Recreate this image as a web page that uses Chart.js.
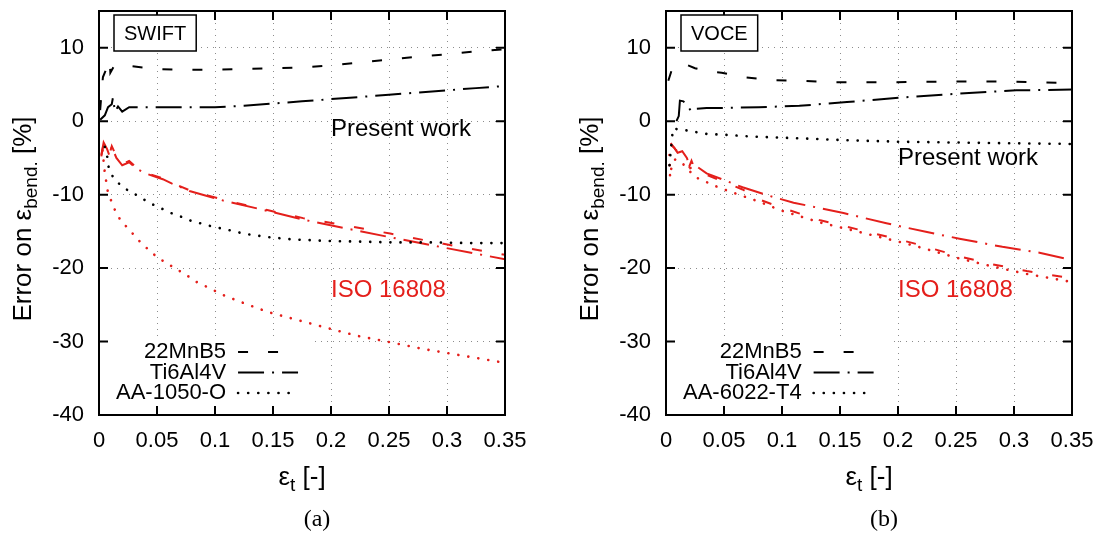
<!DOCTYPE html>
<html>
<head>
<meta charset="utf-8">
<script src="https://cdn.jsdelivr.net/npm/chart.js@4.4.1/dist/chart.umd.min.js"></script>
<style>
  html, body { margin: 0; padding: 0; background: #fff; }
  #wrap { position: relative; width: 1104px; height: 535px; }
  .panel { position: absolute; top: 0; width: 552px; height: 535px; }
</style>
</head>
<body>
<div id="wrap">
  <div class="panel" style="left:0"><canvas id="chart-swift"></canvas></div>
  <div class="panel" style="left:552px"><canvas id="chart-voce"></canvas></div>
</div>
<script>
// axis ticks
const xTicks = [0, 0.05, 0.1, 0.15, 0.2, 0.25, 0.3, 0.35];
const yTicks = [-40, -30, -20, -10, 0, 10];

// (a) SWIFT - present work
const swiftMnB5X = [0.001, 0.0026, 0.0034, 0.006, 0.0092, 0.0095, 0.0098, 0.013, 0.02, 0.027, 0.05, 0.075, 0.1, 0.125, 0.15, 0.175, 0.2, 0.225, 0.25, 0.275, 0.3, 0.325, 0.35];
const swiftMnB5Y = [1.5, 4.7, 6.0, 7.0, 8.3, 7.5, 6.6, 7.5, 7.6, 7.5, 7.1, 7.0, 7.0, 7.1, 7.2, 7.3, 7.6, 8.0, 8.4, 8.8, 9.1, 9.5, 9.8];
const swiftTiX = [0.001, 0.005, 0.0078, 0.011, 0.012, 0.0138, 0.0164, 0.02, 0.026, 0.05, 0.075, 0.1, 0.125, 0.15, 0.175, 0.2, 0.225, 0.25, 0.275, 0.3, 0.325, 0.35];
const swiftTiY = [0.2, 0.8, 1.9, 2.3, 3.2, 1.3, 2.0, 1.3, 1.9, 1.9, 1.9, 1.9, 2.1, 2.4, 2.7, 3.0, 3.3, 3.6, 3.9, 4.2, 4.5, 4.8];
const swiftAlX = [0.005, 0.0069, 0.008, 0.012, 0.019, 0.0267, 0.0353, 0.043, 0.0526, 0.062, 0.0707, 0.08, 0.0897, 0.099, 0.1086, 0.119, 0.128, 0.147, 0.167, 0.197, 0.225, 0.253, 0.285, 0.322, 0.35];
const swiftAlY = [-3.5, -4.6, -6.1, -7.6, -8.8, -9.6, -10.3, -11.1, -11.8, -12.5, -13.0, -13.6, -14.0, -14.4, -14.7, -15.1, -15.4, -15.8, -16.1, -16.3, -16.4, -16.5, -16.5, -16.6, -16.6];

// (a) SWIFT - ISO 16808
const isoAMnB5X = [0.002, 0.004, 0.007, 0.009, 0.011, 0.015, 0.02, 0.026, 0.033, 0.04, 0.055, 0.063, 0.078, 0.107, 0.145, 0.176, 0.216, 0.251, 0.297, 0.35];
const isoAMnB5Y = [-4.8, -3.0, -3.6, -4.5, -3.4, -4.8, -5.9, -5.4, -6.4, -7.0, -7.8, -8.4, -9.4, -10.7, -12.1, -13.2, -14.3, -15.3, -16.7, -18.2];
const isoATiX = [0.002, 0.004, 0.007, 0.009, 0.011, 0.015, 0.02, 0.026, 0.033, 0.04, 0.055, 0.063, 0.078, 0.107, 0.145, 0.176, 0.216, 0.251, 0.297, 0.35];
const isoATiY = [-4.6, -2.9, -3.8, -4.7, -3.5, -5.0, -6.0, -5.6, -6.5, -7.1, -7.9, -8.5, -9.5, -10.8, -12.2, -13.4, -14.7, -15.8, -17.2, -18.8];
const isoAAlX = [0.003, 0.005, 0.0078, 0.012, 0.0155, 0.021, 0.0285, 0.0353, 0.042, 0.05, 0.058, 0.0664, 0.075, 0.083, 0.091, 0.109, 0.127, 0.146, 0.165, 0.193, 0.222, 0.251, 0.279, 0.309, 0.35];
const isoAAlY = [-4.0, -7.0, -9.8, -11.4, -12.8, -13.9, -15.2, -16.4, -17.4, -18.5, -19.3, -20.1, -20.9, -21.8, -22.4, -23.8, -24.9, -26.0, -26.8, -28.0, -29.2, -30.1, -31.0, -31.8, -32.9];

// (b) VOCE - present work
const voceMnB5X = [0.002, 0.005, 0.008, 0.019, 0.025, 0.04, 0.048, 0.066, 0.092, 0.118, 0.144, 0.193, 0.242, 0.294, 0.32, 0.35];
const voceMnB5Y = [5.5, 7.0, 7.6, 7.6, 7.2, 6.7, 6.6, 6.0, 5.6, 5.5, 5.3, 5.3, 5.4, 5.4, 5.3, 5.2];
const voceTiX = [0.009, 0.011, 0.012, 0.015, 0.018, 0.022, 0.026, 0.035, 0.05, 0.08, 0.115, 0.156, 0.201, 0.248, 0.302, 0.35];
const voceTiY = [0, 0.7, 2.8, 2.7, 2.2, 1.3, 1.7, 1.8, 1.8, 1.9, 2.1, 2.6, 3.2, 3.7, 4.2, 4.3];
const voceAlX = [0.003, 0.004, 0.005, 0.006, 0.014, 0.021, 0.029, 0.038, 0.047, 0.055, 0.075, 0.11, 0.156, 0.202, 0.247, 0.294, 0.35];
const voceAlY = [-6.0, -4.2, -2.6, -1.0, -1.2, -1.3, -1.6, -1.8, -1.8, -1.9, -2.1, -2.3, -2.6, -2.8, -2.9, -3.0, -3.1];

// (b) VOCE - ISO 16808
const isoBMnB5X = [0.004, 0.008, 0.012, 0.016, 0.02, 0.022, 0.025, 0.035, 0.05, 0.066, 0.081, 0.1, 0.133, 0.167, 0.213, 0.253, 0.282, 0.311, 0.35];
const isoBMnB5Y = [-3.0, -3.8, -4.5, -5.0, -6.2, -5.4, -6.6, -7.3, -8.3, -9.3, -10.7, -11.8, -13.5, -14.8, -16.6, -18.4, -19.5, -20.4, -21.4];
const isoBTiX = [0.004, 0.007, 0.01, 0.014, 0.018, 0.021, 0.025, 0.035, 0.053, 0.066, 0.092, 0.11, 0.153, 0.19, 0.225, 0.253, 0.29, 0.322, 0.35];
const isoBTiY = [-3.2, -3.6, -4.3, -4.1, -5.0, -6.4, -6.0, -7.1, -8.2, -9.0, -10.3, -11.1, -12.5, -13.9, -15.1, -16.0, -17.1, -17.9, -18.9];
const isoBAlX = [0.003, 0.0035, 0.005, 0.008, 0.014, 0.025, 0.035, 0.042, 0.052, 0.061, 0.081, 0.1, 0.133, 0.167, 0.213, 0.253, 0.282, 0.311, 0.35];
const isoBAlY = [-4.6, -7.6, -6.0, -5.2, -5.7, -7.6, -8.3, -8.8, -9.4, -9.9, -11.0, -12.2, -13.8, -15.1, -16.9, -18.7, -19.8, -20.8, -21.9];

Chart.defaults.font.family = '"Liberation Sans", Arial, Helvetica, sans-serif';
Chart.defaults.font.size = 22;
Chart.defaults.color = '#000';

const BLACK = '#000000';
const RED = '#e41f1b';
const DASH = [10, 20];
const DASHDOT = [26, 8, 2, 8];
const DOT = [0.1, 10];
const SANS = '"Liberation Sans", Arial, Helvetica, sans-serif';

function pts(xs, ys) {
    return xs.map((x, i) => ({x: x, y: ys[i]}));
}

function series(label, xs, ys, color, dash) {
    const dotted = dash === DOT;
    return {
        label: label, data: pts(xs, ys), borderColor: color, backgroundColor: color,
        borderWidth: dotted ? 2.6 : 2, borderDash: dash, borderCapStyle: dotted ? 'round' : 'butt',
        pointRadius: 0, fill: false, tension: 0
    };
}

// draws text with a subscript part, centred on (0,0) of the current transform
function drawSubText(ctx, parts) {
    let total = 0;
    parts.forEach(p => {
        ctx.font = (p[1] ? 19 : 26) + 'px ' + SANS;
        p.w = ctx.measureText(p[0]).width;
        total += p.w;
    });
    let cx = -total / 2;
    ctx.textAlign = 'left';
    ctx.textBaseline = 'middle';
    parts.forEach(p => {
        ctx.font = (p[1] ? 19 : 26) + 'px ' + SANS;
        ctx.fillText(p[0], cx, p[1] ? 8 : 0);
        cx += p.w;
    });
}

const decor = {
    id: 'decor',
    beforeDatasetsDraw(chart, args, o) {
        const ctx = chart.ctx, a = chart.chartArea;
        // opaque key area hides the grid
        ctx.save();
        ctx.fillStyle = '#fff';
        ctx.fillRect(a.left + 1, a.bottom - 77, o.keyWidth, 76);
        ctx.restore();
    },
    afterDatasetsDraw(chart, args, o) {
        const ctx = chart.ctx, a = chart.chartArea;
        const xs = chart.scales.x, ys = chart.scales.y;
        ctx.save();

        // frame + inward ticks on all sides
        ctx.strokeStyle = '#000';
        ctx.lineWidth = 2;
        ctx.setLineDash([]);
        ctx.strokeRect(a.left, a.top, a.right - a.left, a.bottom - a.top);
        ctx.beginPath();
        xTicks.forEach(v => {
            const px = xs.getPixelForValue(v);
            ctx.moveTo(px, a.bottom); ctx.lineTo(px, a.bottom - 9);
            ctx.moveTo(px, a.top); ctx.lineTo(px, a.top + 9);
        });
        yTicks.forEach(v => {
            const py = ys.getPixelForValue(v);
            ctx.moveTo(a.left, py); ctx.lineTo(a.left + 9, py);
            ctx.moveTo(a.right, py); ctx.lineTo(a.right - 9, py);
        });
        ctx.stroke();

        // model name box
        ctx.font = '20px ' + SANS;
        const bw = ctx.measureText(o.model).width + 20;
        ctx.fillStyle = '#fff';
        ctx.fillRect(a.left + 15, a.top + 4, bw, 36);
        ctx.lineWidth = 1.5;
        ctx.strokeRect(a.left + 15, a.top + 4, bw, 36);
        ctx.fillStyle = '#000';
        ctx.textAlign = 'center';
        ctx.textBaseline = 'middle';
        ctx.fillText(o.model, a.left + 15 + bw / 2, a.top + 23);

        // group labels
        ctx.font = '24px ' + SANS;
        ctx.textAlign = 'left';
        ctx.fillStyle = '#000';
        ctx.fillText('Present work', xs.getPixelForValue(0.2), ys.getPixelForValue(o.presentY));
        ctx.fillStyle = RED;
        ctx.fillText('ISO 16808', xs.getPixelForValue(0.2), ys.getPixelForValue(-23.1));

        // key: text right aligned, sample on the right
        ctx.font = '22px ' + SANS;
        const keySets = chart.data.datasets.slice(0, 3);
        let maxW = 0;
        keySets.forEach(d => { maxW = Math.max(maxW, ctx.measureText(d.label).width); });
        const tr = a.left + 17 + maxW;
        keySets.forEach((d, i) => {
            const y = a.bottom - 63 + i * 20.5;
            ctx.fillStyle = '#000';
            ctx.textAlign = 'right';
            ctx.fillText(d.label, tr, y);
            ctx.beginPath();
            ctx.strokeStyle = '#000';
            ctx.lineWidth = d.borderWidth;
            ctx.lineCap = d.borderCapStyle;
            ctx.setLineDash(d.borderDash);
            ctx.moveTo(tr + 12, y);
            ctx.lineTo(tr + 72, y);
            ctx.stroke();
        });
        ctx.setLineDash([]);
        ctx.lineCap = 'butt';
        ctx.restore();
    },
    afterDraw(chart, args, o) {
        const ctx = chart.ctx, a = chart.chartArea;
        const cx = (a.left + a.right) / 2;
        ctx.save();
        ctx.fillStyle = '#000';
        // y title
        ctx.translate(a.left - 75, 219);
        ctx.rotate(-Math.PI / 2);
        drawSubText(ctx, [['Error on \u03b5', false], ['bend.', true], [' [%]', false]]);
        ctx.restore();
        ctx.save();
        ctx.fillStyle = '#000';
        ctx.translate(cx, 478);
        drawSubText(ctx, [['\u03b5', false], ['t', true], [' [-]', false]]);
        ctx.restore();
        // caption
        ctx.save();
        ctx.fillStyle = '#000';
        ctx.font = '24px "Liberation Serif", "DejaVu Serif", serif';
        ctx.textAlign = 'center';
        ctx.textBaseline = 'middle';
        ctx.fillText(o.caption, cx + 15, 520);
        ctx.restore();
    }
};

function makeChart(id, sets, opts) {
    const ctx = document.getElementById(id).getContext('2d');
    return new Chart(ctx, {
        type: 'line',
        data: {datasets: sets},
        plugins: [decor],
        options: {
            responsive: true, maintainAspectRatio: false, animation: false,
            layout: {padding: {left: 0, top: 11, right: opts.padRight, bottom: 0}},
            plugins: {
                legend: {display: false}, tooltip: {enabled: false},
                decor: {model: opts.model, presentY: opts.presentY, keyWidth: opts.keyWidth, caption: opts.caption}
            },
            scales: {
                x: {
                    type: 'linear', min: 0, max: 0.35,
                    afterBuildTicks: s => { s.ticks = xTicks.map(v => ({value: v})); },
                    afterFit: s => { s.height = 120; s.paddingLeft = 0; s.paddingRight = 0; s.paddingTop = 0; s.paddingBottom = 0; },
                    ticks: {autoSkip: false, maxRotation: 0, padding: 13, callback: v => String(v)},
                    grid: {color: '#8c8c8c', lineWidth: 1, drawTicks: false},
                    border: {display: false, dash: [1, 5]}
                },
                y: {
                    min: -40, max: 15,
                    afterBuildTicks: s => { s.ticks = yTicks.map(v => ({value: v})); },
                    afterFit: s => { s.width = opts.axisWidth; s.paddingTop = 0; s.paddingBottom = 0; s.paddingLeft = 0; s.paddingRight = 0; },
                    ticks: {autoSkip: false, padding: 15, callback: v => String(v)},
                    grid: {color: '#8c8c8c', lineWidth: 1, drawTicks: false},
                    border: {display: false, dash: [1, 5]}
                }
            }
        }
    });
}

makeChart('chart-swift', [
    series('22MnB5', swiftMnB5X, swiftMnB5Y, BLACK, DASH),
    series('Ti6Al4V', swiftTiX, swiftTiY, BLACK, DASHDOT),
    series('AA-1050-O', swiftAlX, swiftAlY, BLACK, DOT),
    series('22MnB5 ISO', isoAMnB5X, isoAMnB5Y, RED, DASH),
    series('Ti6Al4V ISO', isoATiX, isoATiY, RED, DASHDOT),
    series('AA-1050-O ISO', isoAAlX, isoAAlY, RED, DOT)
], {model: 'SWIFT', presentY: -1.1, keyWidth: 210, caption: '(a)', axisWidth: 99, padRight: 47});

makeChart('chart-voce', [
    series('22MnB5', voceMnB5X, voceMnB5Y, BLACK, DASH),
    series('Ti6Al4V', voceTiX, voceTiY, BLACK, DASHDOT),
    series('AA-6022-T4', voceAlX, voceAlY, BLACK, DOT),
    series('22MnB5 ISO', isoBMnB5X, isoBMnB5Y, RED, DASH),
    series('Ti6Al4V ISO', isoBTiX, isoBTiY, RED, DASHDOT),
    series('AA-6022-T4 ISO', isoBAlX, isoBAlY, RED, DOT)
], {model: 'VOCE', presentY: -5.0, keyWidth: 223, caption: '(b)', axisWidth: 114, padRight: 32});
</script>
</body>
</html>
